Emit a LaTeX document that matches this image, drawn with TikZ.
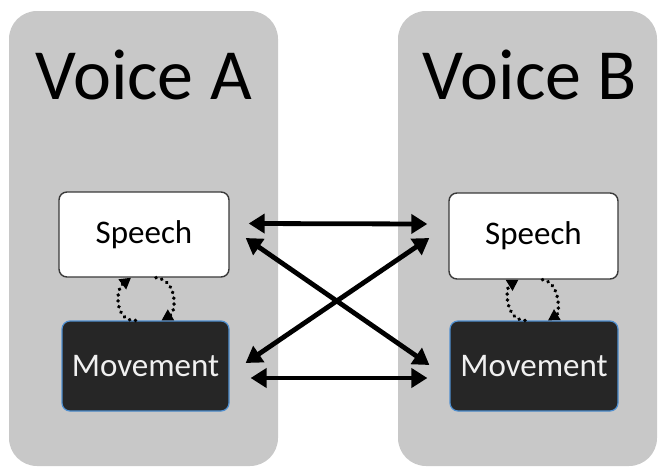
\documentclass[tikz,border=0pt]{standalone}
\usepackage{fontspec}
\setmainfont{Carlito}
\usetikzlibrary{arrows.meta,calc}
\definecolor{panelgray}{HTML}{C8C8C8}
\definecolor{boxborder}{HTML}{3A3A3A}
\definecolor{darkfill}{HTML}{262626}
\definecolor{blueedge}{HTML}{4F8FD0}
\tikzset{
  panel/.style={fill=panelgray, draw=none, rounded corners=28pt, inner sep=0pt},
  title/.style={font=\fontsize{72}{80}\selectfont, text=black, inner sep=0pt, anchor=base},
  speechbox/.style={draw=boxborder, line width=1.4pt, fill=white, rounded corners=8pt,
    font=\fontsize{33}{36}\selectfont, text=black, inner sep=0pt},
  movebox/.style={draw=blueedge, line width=1.2pt, fill=darkfill, rounded corners=8pt,
    font=\fontsize{33}{36}\selectfont, text=white!94!black, inner sep=0pt},
  link/.style={line width=4.8pt, black, {Triangle[length=16pt,width=19pt]}-{Triangle[length=16pt,width=19pt]}},
  loopline/.style={line width=3.8pt, black, line cap=round, dash pattern=on 0.1pt off 5.8pt,
    -{Triangle[length=11pt,width=12pt]}}
}
\begin{document}
\begin{tikzpicture}[x=1pt,y=-1pt]
\useasboundingbox (0,0) rectangle (658,466);
% panels
\node[panel, minimum width=269pt, minimum height=455pt] (PA) at (143.5,238.5) {};
\node[panel, minimum width=259pt, minimum height=455pt] (PB) at (527.5,238.5) {};
% titles
\node[title] (TA) at (143.5,99) {Voice A};
\node[title] (TB) at (530,99) {Voice B};
% boxes
\node[speechbox, minimum width=170pt, minimum height=85pt] (SA) at (144,234.5) {Speech};
\node[movebox, minimum width=167pt, minimum height=90pt] (MA) at (145.5,366) {Movement};
\node[speechbox, minimum width=169pt, minimum height=86pt] (SB) at (533.5,236) {Speech};
\node[movebox, minimum width=168pt, minimum height=90pt] (MB) at (534,366) {Movement};
% cross links
\draw[link] ($(SA.east)+(19,-11)$) -- ($(SB.west)+(-21,-12)$);
\draw[link] ($(MA.east)+(21,12)$) -- ($(MB.west)+(-22,12)$);
\draw[link] ($(SA.east)+(16,3.5)$) -- ($(MB.west)+(-20,-1)$);
\draw[link] ($(MA.east)+(16,-3)$) -- ($(SB.west)+(-19,2)$);
% dotted loops, voice A
\coordinate (la1) at ($(MA.north)+(-10,0)$);
\coordinate (la2) at ($(SA.south)+(-13,0)$);
\coordinate (ra1) at ($(SA.south)+(12,0)$);
\coordinate (ra2) at ($(MA.north)+(16,0)$);
\draw[loopline] (la1) .. controls (115,322) and (115,290) .. (la2);
\draw[loopline] (ra1) .. controls (178,280) and (176,312) .. (ra2);
% dotted loops, voice B
\coordinate (lb1) at ($(MB.north)+(-9,0)$);
\coordinate (lb2) at ($(SB.south)+(-15,0)$);
\coordinate (rb1) at ($(SB.south)+(9,0)$);
\coordinate (rb2) at ($(MB.north)+(14,0)$);
\draw[loopline] (lb1) .. controls (505,320) and (505,288) .. (lb2);
\draw[loopline] (rb1) .. controls (560,282) and (560,313) .. (rb2);
\end{tikzpicture}
\end{document}
